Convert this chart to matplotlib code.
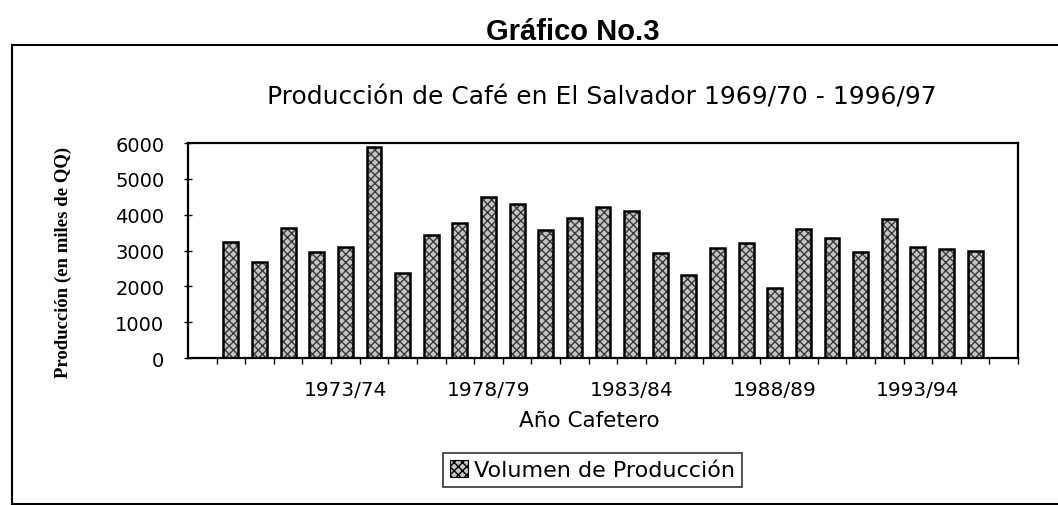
import matplotlib
matplotlib.use("Agg")
import matplotlib.pyplot as plt
from matplotlib.patches import Patch
from matplotlib.lines import Line2D
import numpy as np

# ---- data ----
years = [f"{y}/{str(y + 1)[-2:]}" for y in range(1969, 1997)]  # 1969/70 .. 1996/97
production = [3230, 2670, 3620, 2970, 3110, 5880, 2380, 3420, 3770, 4480,
              4310, 3580, 3900, 4210, 4090, 2930, 2310, 3080, 3210, 1940,
              3610, 3350, 2960, 3890, 3100, 3040, 2980, None]
labelled = ["1973/74", "1978/79", "1983/84", "1988/89", "1993/94"]
yticks = [0, 1000, 2000, 3000, 4000, 5000, 6000]

plt.rcParams['font.family'] = ['DejaVu Sans']

fig = plt.figure(figsize=(10.58, 5.06), dpi=100)
ax = fig.add_axes([0.1777, 0.2905, 0.7845, 0.4249])

x = np.arange(len(years))
vals = np.array([np.nan if v is None else v for v in production], dtype=float)
ax.bar(x, vals, width=0.52, color='#c4c4c4', edgecolor='#3a3a3a', hatch='xxxx',
       linewidth=0, zorder=2)
ax.bar(x, vals, width=0.52, fill=False, edgecolor='black', linewidth=1.8, zorder=3)

ax.set_xlim(-1.5, len(years) - 0.5)
ax.set_ylim(0, 6000)
ax.set_yticks(yticks)
ax.set_yticklabels([str(t) for t in yticks], fontsize=14)
ax.tick_params(axis='y', direction='inout', length=6, width=1, pad=14)

pos = [years.index(l) for l in labelled]
ax.set_xticks(pos)
ax.set_xticklabels(labelled, fontsize=14.5)
ax.set_xticks(np.arange(-0.5, len(years), 1), minor=True)
ax.tick_params(axis='x', which='major', length=0, pad=16)
ax.tick_params(axis='x', which='minor', direction='out', length=4, width=1)

for s in ax.spines.values():
    s.set_linewidth(1.6)
    s.set_color('black')

ax.set_xlabel("Año Cafetero", fontsize=15.5)
ax.xaxis.set_label_coords(0.484, -0.242)
ax.set_ylabel("Producción (en miles de QQ)", fontsize=13.5, fontweight='bold',
              family='Liberation Serif')
ax.yaxis.set_label_coords(-0.14, 0.45)

fig.text(0.541, 0.936, "Gráfico No.3", ha='center', va='center',
         fontsize=21, fontweight='bold', family='Liberation Sans')
fig.text(0.569, 0.808, "Producción de Café en El Salvador 1969/70 - 1996/97",
         ha='center', va='center', fontsize=18)

# outer frame
fig.add_artist(Line2D([0.0113, 1.0], [0.909, 0.909], color='black', lw=1.5,
                      transform=fig.transFigure))
fig.add_artist(Line2D([0.0113, 0.0113], [0.909, 0.002], color='black', lw=1.5,
                      transform=fig.transFigure))
fig.add_artist(Line2D([0.0113, 1.0], [0.002, 0.002], color='black', lw=1.5,
                      transform=fig.transFigure))

handle = Patch(facecolor='#c4c4c4', edgecolor='black', hatch='xxxx', linewidth=0.8)
leg = fig.legend([handle], ["Volumen de Producción"], loc='center',
                 bbox_to_anchor=(0.56, 0.069), fontsize=16, frameon=True,
                 fancybox=False, handlelength=0.8, handleheight=0.8,
                 handletextpad=0.3, borderpad=0.3, borderaxespad=0)
leg.get_frame().set_edgecolor('black')
leg.get_frame().set_linewidth(1.2)

fig.savefig("out.png", dpi=100)
